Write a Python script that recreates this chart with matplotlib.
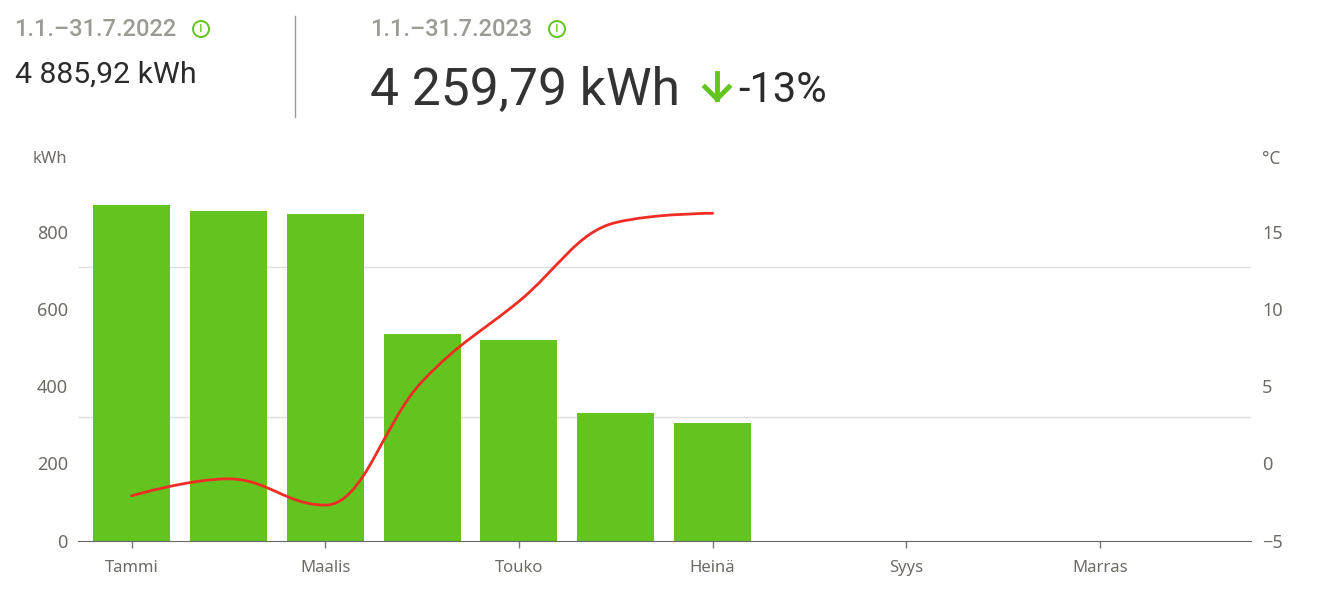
import matplotlib.pyplot as plt
from matplotlib.patches import Circle, PathPatch
from matplotlib.path import Path

months = ['Tammi', 'Helmi', 'Maalis', 'Huhti', 'Touko', 'Kesä', 'Heinä', 'Elo', 'Syys', 'Loka', 'Marras', 'Joulu']
kwh = [870, 855, 847, 536, 520, 331, 305]
temp = [-2.1, -1.0, -2.7, 5.3, 10.5, 15.6, 16.2]
kwh_ticks = [0, 200, 400, 600, 800]
temp_ticks = [-5, 0, 5, 10, 15]
grid_vals = [321, 709]

GREEN = '#63c420'
RED = '#ee2e24'
GREY = '#6e6a66'
W, H = 1320, 594

plt.rcParams['font.family'] = ['Noto Sans', 'DejaVu Sans']


def spline_path(xs, ys):
    # same control points a highcharts spline uses
    verts = [(xs[0], ys[0])]
    codes = [Path.MOVETO]
    rc = (xs[0], ys[0])
    for i in range(1, len(xs)):
        x, y = xs[i], ys[i]
        if i == len(xs) - 1:
            left = (x, y)
            right = (x, y)
        else:
            lx, ly = xs[i - 1], ys[i - 1]
            nx, ny = xs[i + 1], ys[i + 1]
            lcx = (1.5 * x + lx) / 2.5
            lcy = (1.5 * y + ly) / 2.5
            rcx = (1.5 * x + nx) / 2.5
            rcy = (1.5 * y + ny) / 2.5
            corr = (rcy - lcy) * (rcx - x) / (rcx - lcx) + y - rcy
            lcy += corr
            rcy += corr
            if lcy > ly and lcy > y:
                lcy = max(ly, y)
                rcy = 2 * y - lcy
            elif lcy < ly and lcy < y:
                lcy = min(ly, y)
                rcy = 2 * y - lcy
            if rcy > ny and rcy > y:
                rcy = max(ny, y)
                lcy = 2 * y - rcy
            elif rcy < ny and rcy < y:
                rcy = min(ny, y)
                lcy = 2 * y - rcy
            left = (lcx, lcy)
            right = (rcx, rcy)
        verts += [rc, left, (x, y)]
        codes += [Path.CURVE4, Path.CURVE4, Path.CURVE4]
        rc = right
    return Path(verts, codes)


def px_text(x, y, s, **kw):
    kw.setdefault('va', 'center')
    fig.text(x / W, 1 - y / H, s, **kw)


fig = plt.figure(figsize=(13.2, 5.94), dpi=100)
ax = fig.add_axes([77.5 / W, 1 - 540.6 / H, (1251 - 77.5) / W, 386 / H])

x = list(range(len(kwh)))
ax.bar(x, kwh, width=0.795, color=GREEN, zorder=2)
ax.hlines(grid_vals, -0.558, 11.558, color='#dedede', lw=1, zorder=1)
ax.set_xlim(-0.558, 11.558)
ax.set_ylim(0, 1000)
ax.set_yticks(kwh_ticks)
ax.set_xticks(range(0, 12, 2))
ax.set_xticklabels(months[::2])
ax.tick_params(axis='y', length=0, pad=7, labelsize=13, labelcolor=GREY)
ax.tick_params(axis='x', length=5, width=1, color='#777777', pad=9, labelsize=12, labelcolor=GREY)
for s in ['top', 'left', 'right']:
    ax.spines[s].set_visible(False)
ax.spines['bottom'].set_color('#666666')

ax2 = ax.twinx()
ax2.set_ylim(-5, 20)
ax2.set_yticks(temp_ticks)
ax2.tick_params(axis='y', length=0, pad=8, labelsize=13, labelcolor=GREY)
for s in ax2.spines.values():
    s.set_visible(False)
ax2.add_patch(PathPatch(spline_path(x, temp), fc='none', ec=RED, lw=2, capstyle='round'))

px_text(50, 159, 'kWh', ha='center', fontsize=12, color=GREY)
px_text(1271, 159, '°C', ha='center', fontsize=12.5, color=GREY)

# header
hdr = 'Roboto'
px_text(14, 29, '1.1.–31.7.2022', family=hdr, fontsize=17, fontweight='medium', color='#9b9a94')
px_text(370, 29, '1.1.–31.7.2023', family=hdr, fontsize=17, fontweight='medium', color='#9b9a94')
px_text(15, 75, '4 885,92 kWh', family=hdr, fontsize=21.8, color='#2b2b2b')
px_text(370, 90, '4 259,79 kWh', family=hdr, fontsize=37.2, color='#333333')
px_text(738, 90, '-13%', family=hdr, fontsize=30, color='#2b2b2b')

over = fig.add_axes([0, 0, 1, 1])
over.set_xlim(0, W)
over.set_ylim(H, 0)
over.axis('off')
over.patch.set_alpha(0)
over.plot([295, 295], [16, 117], color='#999999', lw=1)
for cx in (201, 557):
    over.add_patch(Circle((cx, 29), 8, fc='none', ec=GREEN, lw=1.4))
    over.text(cx, 29, 'i', ha='center', va='center', fontsize=10.5, color=GREEN)
over.plot([717, 717], [73, 99], color=GREEN, lw=3.5)
over.plot([705, 717, 729], [87, 99, 87], color=GREEN, lw=3.5, solid_joinstyle='miter')

fig.savefig('out.png', dpi=100)
